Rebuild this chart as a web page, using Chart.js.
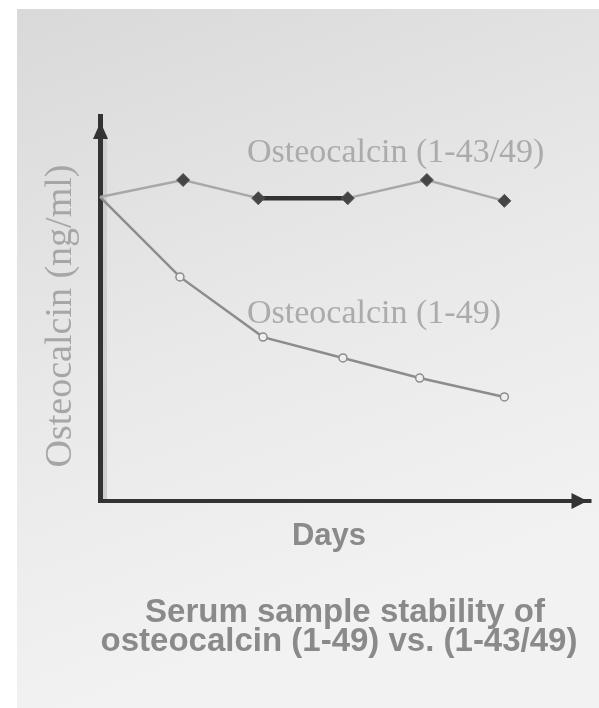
<!DOCTYPE html>
<html>
<head>
<meta charset="utf-8">
<script src="https://cdn.jsdelivr.net/npm/chart.js@4.4.1/dist/chart.umd.min.js"></script>
<style>
  html, body { margin: 0; padding: 0; background: #fff; }
  #bg {
    position: absolute; left: 17px; top: 9px; width: 582px; height: 699px;
    background: linear-gradient(160deg, #d9d9d9 0%, #e9e9e9 45%, #f2f2f2 80%);
  }
  #chart { position: absolute; left: 0; top: 0; }
</style>
</head>
<body>
<div id="bg"></div>
<canvas id="chart" width="599" height="708"></canvas>
<script>
// values (y in arbitrary units, axis 0..100)
const daysFilled = [0, 1.04, 1.98, 3.1, 4.09, 5.06];
const osteo4349 = [78.5, 82.9, 78.2, 78.2, 82.9, 77.5];
const daysOpen = [0, 1.0, 2.04, 3.04, 4.0, 5.06];
const osteo149 = [78.5, 57.8, 42.2, 36.8, 31.6, 26.7];

const labelTop = 'Osteocalcin (1-43/49)';
const labelLow = 'Osteocalcin (1-49)';
const yTitle = 'Osteocalcin (ng/ml)';
const xTitle = 'Days';
const caption = ['Serum sample stability of', 'osteocalcin (1-49) vs. (1-43/49)'];

const toPoints = (xs, ys) => xs.map((x, i) => ({ x: x, y: ys[i] }));

// axes with arrows, titles and the in-plot labels
const decorPlugin = {
    id: 'decor',
    beforeDatasetsDraw(chart) {
        const ctx = chart.ctx;
        const a = chart.chartArea;
        ctx.save();
        // faint shadow next to y axis
        ctx.fillStyle = '#cfcfcf';
        ctx.fillRect(a.left + 3, a.top + 20, 4, a.bottom - a.top - 20);
        ctx.fillStyle = '#333';
        ctx.fillRect(a.left - 2, a.top, 5, a.bottom - a.top + 2);
        ctx.fillRect(a.left - 2, a.bottom - 1, a.right - a.left + 2, 4);
        // arrow heads
        ctx.beginPath();
        ctx.moveTo(a.left + 0.5, a.top + 8);
        ctx.lineTo(a.left - 7, a.top + 25);
        ctx.lineTo(a.left + 8, a.top + 25);
        ctx.closePath();
        ctx.fill();
        ctx.beginPath();
        ctx.moveTo(a.right - 4, a.bottom + 1);
        ctx.lineTo(a.right - 20, a.bottom - 7);
        ctx.lineTo(a.right - 20, a.bottom + 9);
        ctx.closePath();
        ctx.fill();
        ctx.restore();
    },
    afterDatasetsDraw(chart) {
        const ctx = chart.ctx;
        ctx.save();
        ctx.fillStyle = '#ababab';
        ctx.font = '34px "Liberation Serif"';
        ctx.textAlign = 'left';
        ctx.textBaseline = 'alphabetic';
        ctx.fillText(labelTop, 247, 162);
        ctx.fillText(labelLow, 247, 323);

        ctx.save();
        ctx.translate(71, 316);
        ctx.rotate(-Math.PI / 2);
        ctx.textAlign = 'center';
        ctx.font = '38px "Liberation Serif"';
        ctx.fillStyle = '#a6a6a6';
        ctx.fillText(yTitle, 0, 0);
        ctx.restore();

        ctx.fillStyle = '#8a8a8a';
        ctx.textAlign = 'center';
        ctx.font = 'bold 31px "Liberation Sans"';
        ctx.fillText(xTitle, 329, 545);
        ctx.font = 'bold 33px "Liberation Sans"';
        ctx.fillText(caption[0], 345, 622);
        ctx.fillText(caption[1], 339, 651);
        ctx.restore();
    }
};

class StabilityChart {
    constructor(canvasId) {
        this.chart = new Chart(canvasId, {
            type: 'line',
            data: {
                datasets: [
                    {
                        label: labelTop,
                        data: toPoints(daysFilled, osteo4349),
                        borderColor: '#a8a8a8',
                        borderWidth: 2.5,
                        segment: {
                            borderColor: c => c.p0DataIndex === 2 ? '#333' : '#a8a8a8',
                            borderWidth: c => c.p0DataIndex === 2 ? 4.5 : 2.5
                        },
                        pointStyle: 'rectRot',
                        pointRadius: [0, 6.5, 6.5, 6.5, 6.5, 6.5],
                        pointBackgroundColor: '#454545',
                        pointBorderColor: '#555',
                        pointBorderWidth: 1,
                        tension: 0
                    },
                    {
                        label: labelLow,
                        data: toPoints(daysOpen, osteo149),
                        borderColor: '#8c8c8c',
                        borderWidth: 2.5,
                        pointStyle: 'circle',
                        pointRadius: [0, 4, 4, 4, 4, 4],
                        pointBackgroundColor: '#eeeeee',
                        pointBorderColor: '#8c8c8c',
                        pointBorderWidth: 1.5,
                        tension: 0
                    }
                ]
            },
            options: {
                responsive: false,
                animation: false,
                devicePixelRatio: 1,
                clip: false,
                layout: { padding: { left: 100, top: 114, right: 7, bottom: 208 } },
                scales: {
                    x: { type: 'linear', display: false, min: 0, max: 6.15 },
                    y: { type: 'linear', display: false, min: 0, max: 100 }
                },
                plugins: {
                    legend: { display: false },
                    tooltip: { enabled: false },
                    title: { display: false }
                }
            },
            plugins: [decorPlugin]
        });
    }
}

new StabilityChart('chart');
</script>
</body>
</html>
